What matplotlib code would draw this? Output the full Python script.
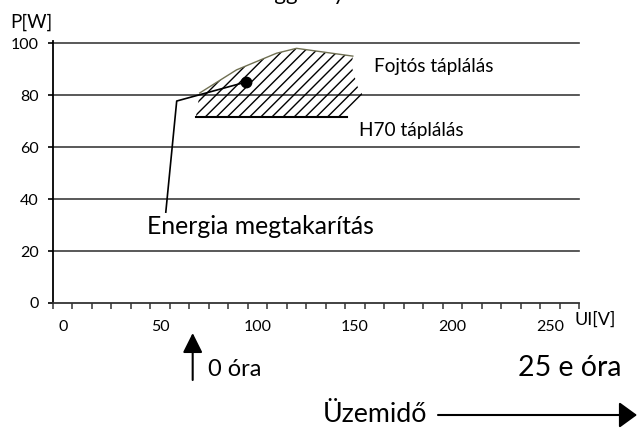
import matplotlib
matplotlib.use("Agg")
import matplotlib.pyplot as plt
import matplotlib.transforms as mtransforms
from matplotlib.patches import FancyArrowPatch

plt.rcParams['font.family'] = ['Lato', 'DejaVu Sans']
plt.rcParams['hatch.linewidth'] = 1.0
plt.rcParams['hatch.color'] = 'black'

# ---- data ----
x_labels = [0, 50, 100, 150, 200, 250]
x_minor = list(range(-5, 270, 10))
y_ticks = [0, 20, 40, 60, 80, 100]

# hatched region (Fojtós táplálás vs H70 táplálás)
region_x = [70.3, 89.2, 109.7, 120.0, 148.9, 148.4, 151.4, 154.0, 145.8, 68.3]
region_y = [80.9, 89.8, 96.2, 98.1, 95.1, 90.9, 83.2, 80.1, 71.6, 71.6]
top_x = [70.3, 89.2, 109.7, 120.0, 148.9]
top_y = [80.9, 89.8, 96.2, 98.1, 95.1]
h70_x = [68.3, 145.8]
h70_y = [71.6, 71.6]

point_x = [94.0]
point_y = [85.1]
leader_x = [52.9, 58.5, 94.0]
leader_y = [35.0, 77.8, 85.1]

start_x = 66.7  # "0 óra"

W, H = 638, 428
fig = plt.figure(figsize=(W / 100, H / 100), dpi=100)
ax = fig.add_axes([53 / W, (H - 303) / H, (579 - 53) / W, (303 - 40.8) / H])
ax.set_xlim(-5, 265)
ax.set_ylim(0, 101)

for s in ['top', 'right']:
    ax.spines[s].set_visible(False)
ax.spines['left'].set_linewidth(1.3)
ax.spines['left'].set_color('black')
ax.spines['bottom'].set_linewidth(1.3)
ax.spines['bottom'].set_color('#333333')

ax.set_yticks(y_ticks)
ax.set_yticklabels([str(v) for v in y_ticks], fontsize=11.5)
ax.tick_params(axis='y', direction='out', length=3.6, width=1.2, pad=6.5, colors='black')

ax.set_xticks(x_labels)
ax.set_xticklabels([str(v) for v in x_labels], fontsize=11.5)
ax.set_xticks(x_minor, minor=True)
ax.tick_params(axis='x', which='major', length=0, pad=12)
ax.tick_params(axis='x', which='minor', direction='out', length=4.3, width=1.1, color='#333333')

for yv in y_ticks[1:]:
    ax.axhline(yv, color='#3c3c3c', lw=1.2, zorder=1, clip_on=False)

# hatched region
ax.fill(region_x, region_y, facecolor='none', edgecolor='black', linewidth=0,
        hatch='///', zorder=2)
ax.plot(top_x, top_y, color='#707052', lw=1.0, zorder=3)
ax.plot(h70_x, h70_y, color='black', lw=1.5, zorder=3)

# leader line and point
ax.plot(leader_x, leader_y, color='black', lw=1.2, zorder=4, clip_on=False)
ax.plot(point_x, point_y, 'o', color='black', markersize=7.5, zorder=5)

ax.text(159.7, 91.0, 'Fojtós táplálás', fontsize=13.7, ha='left', va='center')
ax.text(152.0, 66.3, 'H70 táplálás', fontsize=13.7, ha='left', va='center')
ax.text(43, 29.5, 'Energia megtakarítás', fontsize=17.8, ha='left', va='center')

# axis titles
fig.text(10 / W, 1 - 22 / H, 'P[W]', fontsize=13.5, ha='left', va='center')
fig.text(575 / W, 1 - 320 / H, 'UI[V]', fontsize=13, ha='left', va='center')

# cut-off title at top
fig.text(254 / W, 1.0, 'függvényében', fontsize=16, ha='left', va='baseline')

# bottom annotations
trans = mtransforms.blended_transform_factory(ax.transData, fig.transFigure)
ax.annotate('', xy=(start_x, 1 - 333 / H), xycoords=trans,
            xytext=(start_x, 1 - 380 / H), textcoords=trans,
            arrowprops=dict(arrowstyle='-|>,head_length=0.6,head_width=0.3',
                            mutation_scale=20, lw=1.5, color='black',
                            shrinkA=0, shrinkB=0), annotation_clip=False)
fig.text(208 / W, 1 - 370 / H, '0 óra', fontsize=17, ha='left', va='center')
fig.text(622 / W, 1 - 368 / H, '25 e óra', fontsize=20.5, ha='right', va='center')
fig.text(323 / W, 1 - 414 / H, 'Üzemidő', fontsize=19.3, ha='left', va='center')
fig.add_artist(FancyArrowPatch(
    (438 / W, 1 - 415 / H), (637 / W, 1 - 415 / H), transform=fig.transFigure,
    arrowstyle='-|>,head_length=0.55,head_width=0.4', mutation_scale=20,
    lw=1.5, color='black', shrinkA=0, shrinkB=0))

fig.savefig('out.png', dpi=100)
